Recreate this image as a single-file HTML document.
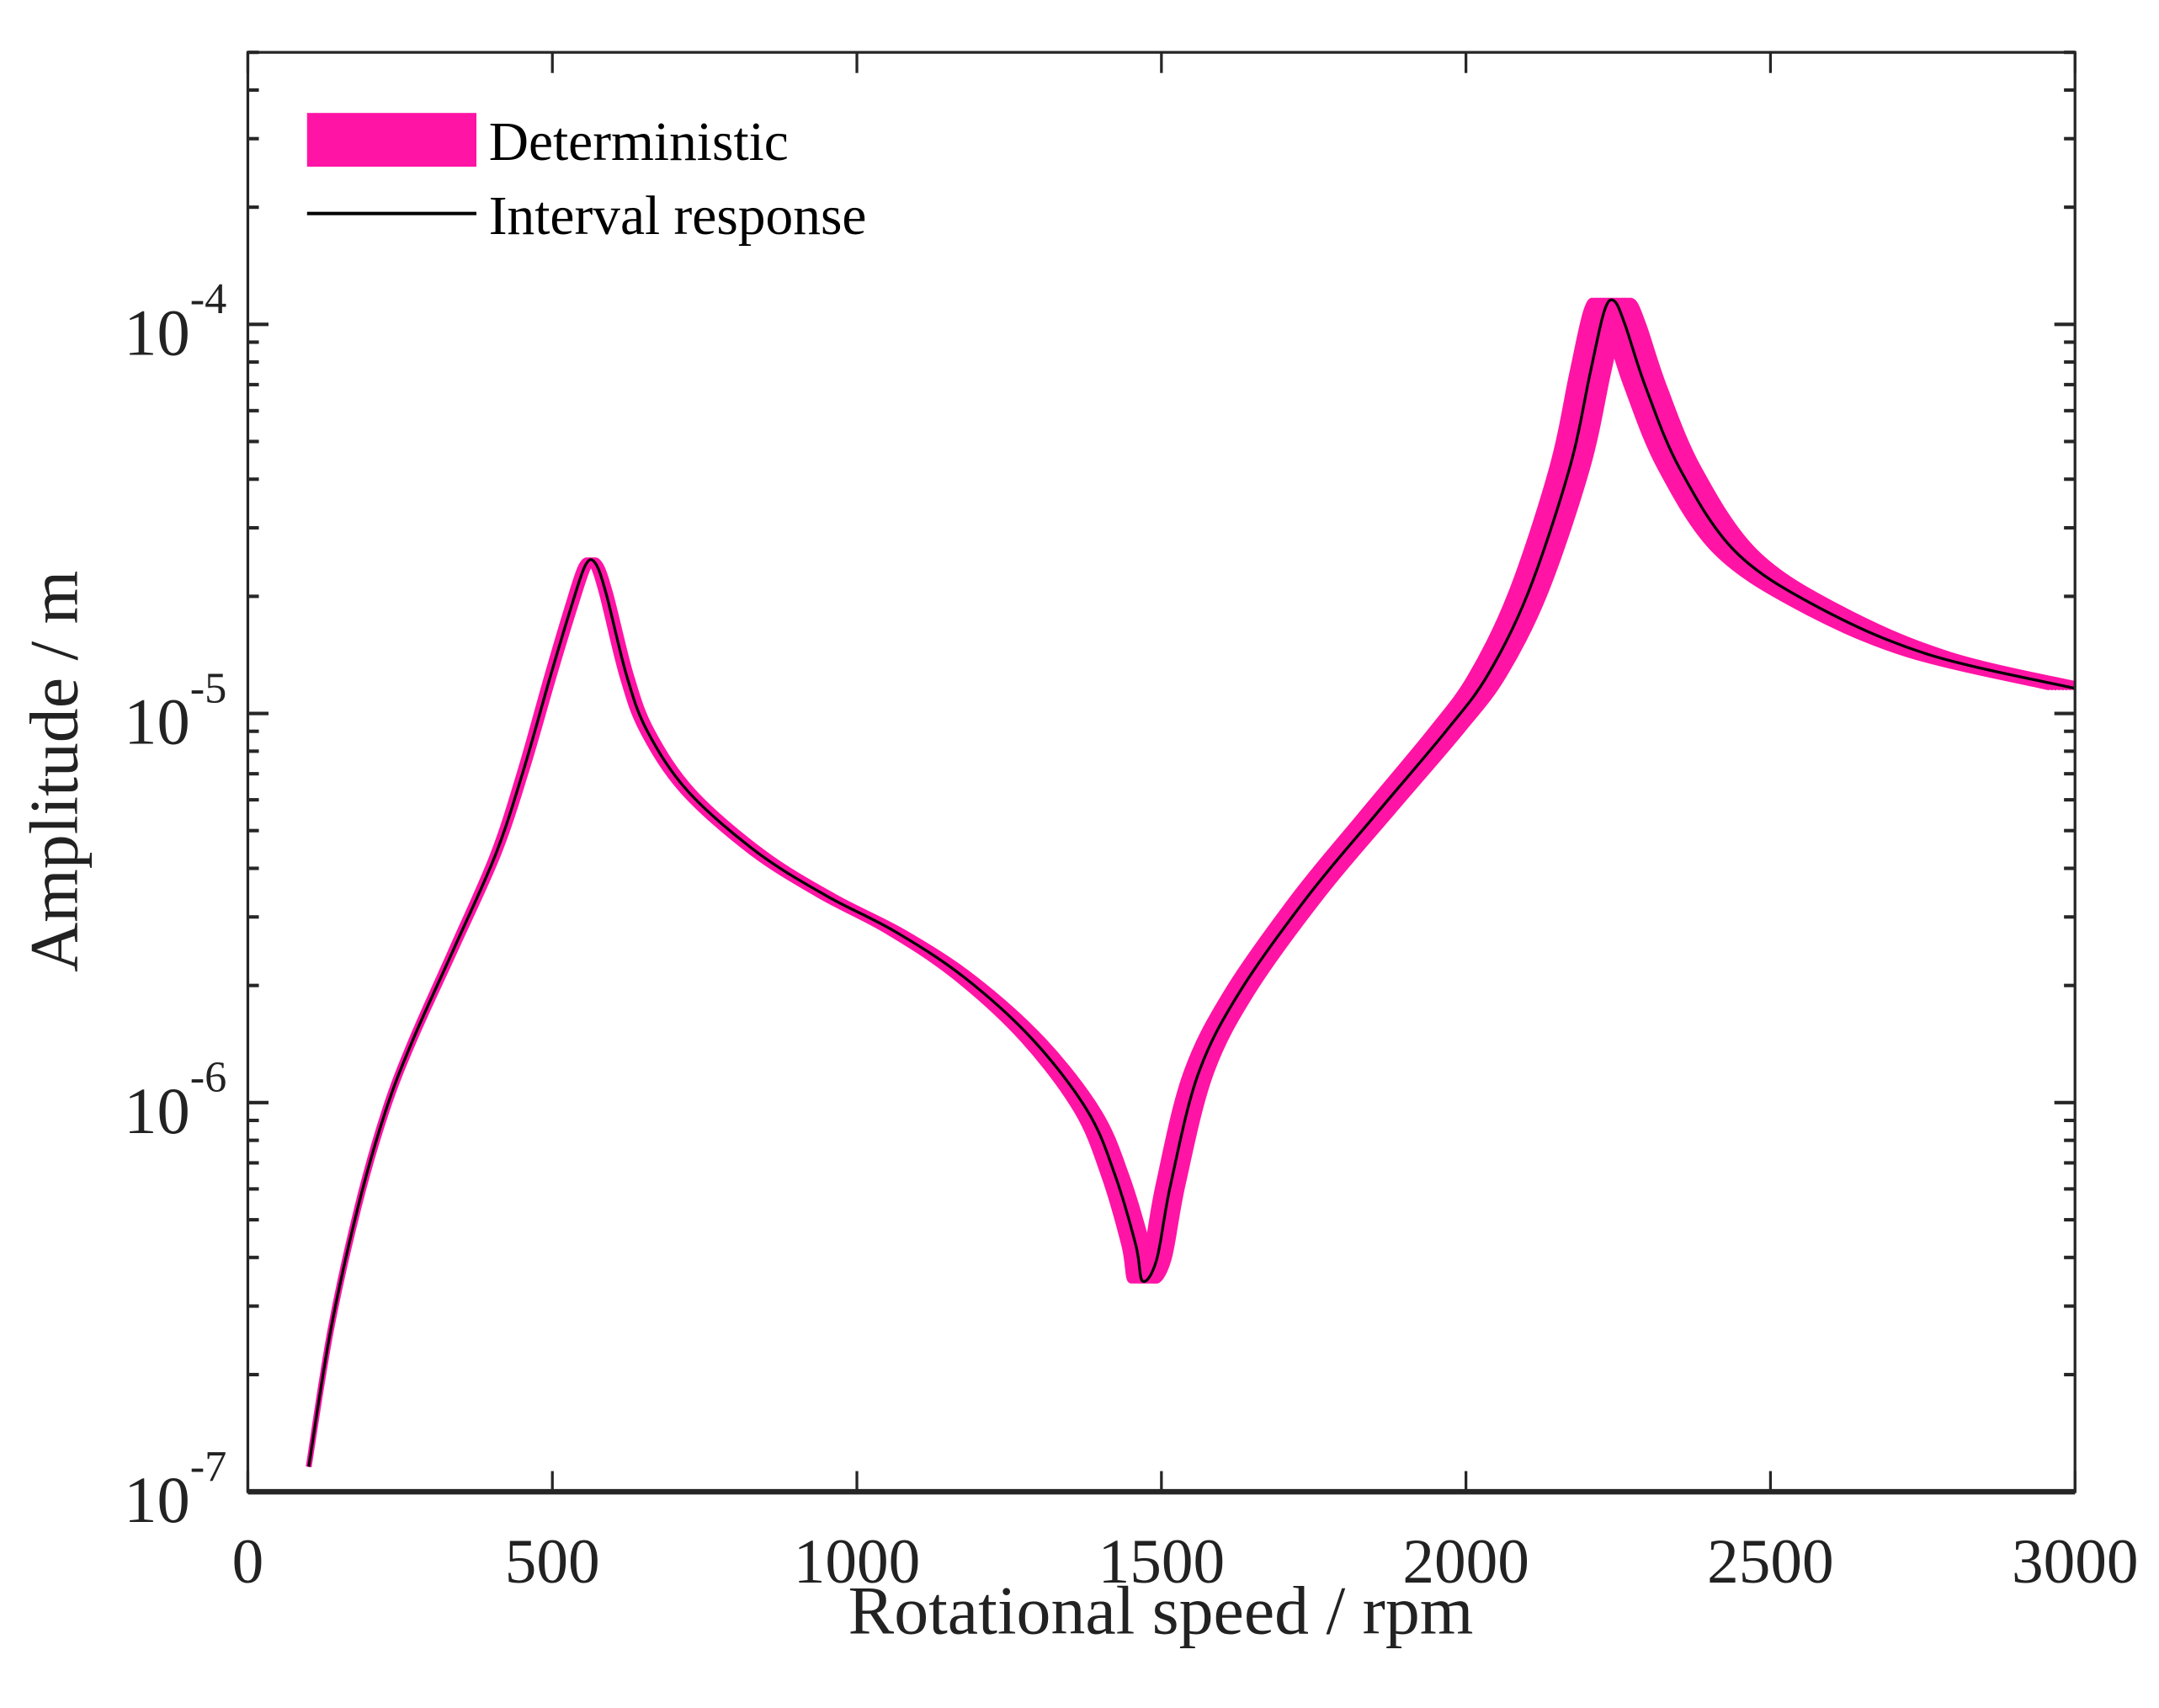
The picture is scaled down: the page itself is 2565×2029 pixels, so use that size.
<!DOCTYPE html>
<html><head><meta charset="utf-8">
<style>html,body{margin:0;padding:0;background:#fff;}svg{display:block;font-family:"Liberation Serif",serif;}</style>
</head><body>
<svg id="chart" width="2565" height="2029" viewBox="0 0 1568 1240" preserveAspectRatio="none" xmlns="http://www.w3.org/2000/svg">
<defs><clipPath id="plotclip"><rect x="180" y="38" width="1327" height="1045"/></clipPath></defs>
<rect width="1568" height="1240" fill="#fff"/>
<g id="bands" clip-path="url(#plotclip)"></g>
<g id="line" clip-path="url(#plotclip)"></g>
<g id="axes"></g>
<g>
  <rect x="223" y="82" width="123" height="39" fill="#ff14a5"/>
  <text x="355" y="116" font-size="40" fill="#000">Deterministic</text>
  <line x1="223" y1="155" x2="346" y2="155" stroke="#000" stroke-width="2.5"/>
  <text x="355" y="170" font-size="40" fill="#000">Interval response</text>
</g>
<text x="843" y="1186" font-size="50" text-anchor="middle" fill="#222">Rotational speed / rpm</text>
<text transform="translate(56,560) rotate(-90)" font-size="50" text-anchor="middle" fill="#222">Amplitude / m</text>
</svg>
<script>
const rpm = [100,136,181,226,271,339,407,452,497,531,554,570,588,622,656,723,836,950,1063,1176,1289,1379,1424,1458,1469,1492,1515,1560,1628,1741,1854,1967,2035,2102,2170,2204,2227,2243,2261,2295,2351,2442,2577,2758,3000];
const amplitude = [1.16e-7,2.6e-7,5.4e-7,9.5e-7,1.45e-6,2.5e-6,4.35e-6,7.1e-6,1.25e-5,1.88e-5,2.40e-5,2.44e-5,2.04e-5,1.25e-5,9.0e-6,6.3e-6,4.4e-6,3.4e-6,2.75e-6,2.1e-6,1.45e-6,9.5e-7,6.5e-7,4.3e-7,3.48e-7,3.94e-7,6.15e-7,1.18e-6,1.92e-6,3.40e-6,5.55e-6,9.0e-6,1.25e-5,2.04e-5,4.26e-5,7.5e-5,1.08e-4,1.15e-4,1.0e-4,6.9e-5,4.26e-5,2.61e-5,1.88e-5,1.42e-5,1.16e-5];
const bandScale = [0.986, 1.014];
const xTicks = [0,500,1000,1500,2000,2500,3000];
const yDecades = [-7,-6,-5,-4];

const L=180,R=1507,T=38,B=1083;
const xmin=0,xmax=3000,ymin=-7,ymax=Math.log10(5e-4);
const X=v=>L+(v-xmin)/(xmax-xmin)*(R-L);
const Y=v=>B-(Math.log10(v)-ymin)/(ymax-ymin)*(B-T);
const NS="http://www.w3.org/2000/svg";
function mk(tag,attrs,parent){const e=document.createElementNS(NS,tag);for(const k in attrs)e.setAttribute(k,attrs[k]);parent.appendChild(e);return e;}
function pathFor(xs,ys){
  const p=xs.map((x,i)=>[x,ys[i]]);
  let d=`M${p[0][0]},${p[0][1]}`;
  for(let i=0;i<p.length-1;i++){
    const p0=p[Math.max(i-1,0)],p1=p[i],p2=p[i+1],p3=p[Math.min(i+2,p.length-1)];
    const c1=[p1[0]+(p2[0]-p0[0])/6,p1[1]+(p2[1]-p0[1])/6];
    const c2=[p2[0]-(p3[0]-p1[0])/6,p2[1]-(p3[1]-p1[1])/6];
    d+=`C${c1[0]},${c1[1]} ${c2[0]},${c2[1]} ${p2[0]},${p2[1]}`;
  }
  return d;
}
const ys=amplitude.map(Y);
const bands=document.getElementById('bands');
const N=14;
for(let k=0;k<=N;k++){
  const s=bandScale[0]+(bandScale[1]-bandScale[0])*k/N;
  const pth=mk('path',{d:pathFor(rpm.map(r=>X(r*s)),ys),fill:'none',stroke:'#ff14a5','stroke-width':3,'stroke-linejoin':'round'},bands);
  
  
}
const lp=mk('path',{d:pathFor(rpm.map(X),ys),fill:'none',stroke:'#000','stroke-width':2},document.getElementById('line'));



const ax=document.getElementById('axes');
const fr=mk('rect',{x:L,y:T,width:R-L,height:B-T,fill:'none',stroke:'#262626','stroke-width':2},ax);


mk('line',{x1:L,y1:B,x2:R,y2:B,stroke:'#262626','stroke-width':4},ax);
xTicks.forEach(t=>{
  const x=X(t);
  mk('line',{x1:x,y1:B,x2:x,y2:B-15,stroke:'#262626','stroke-width':2},ax);
  mk('line',{x1:x,y1:T,x2:x,y2:T+15,stroke:'#262626','stroke-width':2},ax);
  const tx=mk('text',{x:x,y:1149,'font-size':46,'text-anchor':'middle',fill:'#222'},ax);
  tx.textContent=t;
  
  
});
for(let dd=-7;dd<=-4;dd++){
  for(let m=1;m<=9;m++){
    const v=m*Math.pow(10,dd);
    if(Math.log10(v)>ymax+1e-9)break;
    const y=Y(v);const len=m===1?15:8;
    mk('line',{x1:L,y1:y,x2:L+len,y2:y,stroke:'#262626','stroke-width':2.5},ax);
    mk('line',{x1:R,y1:y,x2:R-len,y2:y,stroke:'#262626','stroke-width':2.5},ax);
  }
}
yDecades.forEach(dd=>{
  const y=Y(Math.pow(10,dd));
  const tx=mk('text',{x:138,y:y+22,'font-size':48,'text-anchor':'end',fill:'#222'},ax);
  tx.textContent='10';
  
  
  const sp=mk('text',{x:138,y:y-8,'font-size':32,'text-anchor':'start',fill:'#222'},ax);
  sp.textContent=String(dd);
  
  
});
</script>
</body></html>
